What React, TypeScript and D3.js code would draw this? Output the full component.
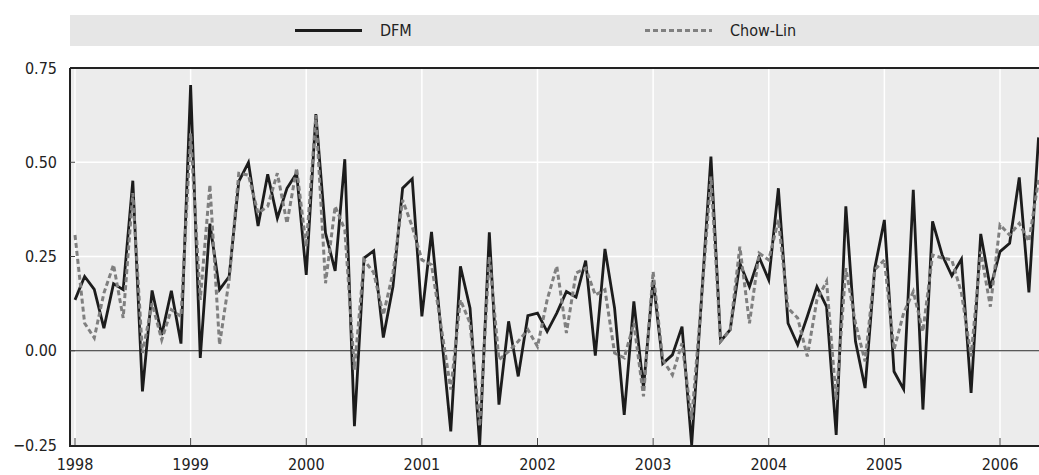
import React from "react";
import * as d3 from "d3";

// monthly values, Jan 1998 - May 2006
const startYear = 1998;
const yearTicks = [1998, 1999, 2000, 2001, 2002, 2003, 2004, 2005, 2006];
const yTicks = [-0.25, 0, 0.25, 0.5, 0.75];

const dfm = [
  0.135, 0.197, 0.163, 0.06, 0.178, 0.162, 0.451, -0.108, 0.16, 0.042, 0.159, 0.019,
  0.705, -0.019, 0.337, 0.162, 0.197, 0.449, 0.499, 0.331, 0.468, 0.352, 0.431, 0.471,
  0.201, 0.628, 0.312, 0.212, 0.508, -0.2, 0.246, 0.265, 0.035, 0.17, 0.431, 0.456,
  0.091, 0.315, 0.05, -0.214, 0.224, 0.113, -0.25, 0.314, -0.143, 0.078, -0.068, 0.093,
  0.1, 0.051, 0.1, 0.157, 0.142, 0.239, -0.013, 0.27, 0.113, -0.17, 0.131, -0.099,
  0.188, -0.034, -0.011, 0.064, -0.25, 0.13, 0.515, 0.025, 0.056, 0.232, 0.17, 0.248,
  0.188, 0.431, 0.073, 0.016, 0.091, 0.17, 0.117, -0.223, 0.383, 0.025, -0.099, 0.219,
  0.347, -0.055, -0.102, 0.427, -0.156, 0.343, 0.254, 0.199, 0.243, -0.112, 0.31, 0.166,
  0.263, 0.285, 0.46, 0.155, 0.566,
];

const chowLin = [
  0.307, 0.073, 0.034, 0.153, 0.228, 0.087, 0.418, -0.006, 0.126, 0.029, 0.109, 0.091,
  0.577, 0.135, 0.44, 0.016, 0.188, 0.471, 0.466, 0.365, 0.383, 0.471, 0.338, 0.484,
  0.276, 0.625, 0.179, 0.383, 0.321, -0.05, 0.241, 0.207, 0.095, 0.207, 0.4, 0.329,
  0.241, 0.228, 0.064, -0.103, 0.135, 0.073, -0.2, 0.25, -0.024, -0.002, 0.025, 0.056,
  0.011, 0.135, 0.224, 0.047, 0.206, 0.219, 0.148, 0.162, -0.006, -0.019, 0.073, -0.121,
  0.21, -0.024, -0.064, 0.02, -0.183, 0.13, 0.462, 0.025, 0.056, 0.276, 0.073, 0.259,
  0.241, 0.347, 0.113, 0.087, -0.015, 0.135, 0.184, -0.13, 0.219, 0.073, -0.028, 0.215,
  0.241, 0.003, 0.1, 0.157, 0.051, 0.254, 0.246, 0.241, 0.153, -0.015, 0.263, 0.117,
  0.334, 0.307, 0.338, 0.29, 0.453,
];

const W = 1039;
const H = 475;
const left = 70;
const right = 1039;
const top = 68;
const bottom = 445;
const font = "'Liberation Sans Narrow', 'DejaVu Sans Condensed', sans-serif";

const App = () => {
  // year scale: 1998 sits a little inside the left axis
  const x = d3.scaleLinear().domain([1998, 2006]).range([75, 1000]);
  const y = d3.scaleLinear().domain([-0.25, 0.75]).range([bottom, top]);

  const line = d3
    .line<number>()
    .x((_, i) => x(startYear + i / 12))
    .y((d) => y(d));

  const fmt = (v: number) => (v < 0 ? "\u2212" : "") + Math.abs(v).toFixed(2);

  return (
    <div style={{ position: "absolute", left: 0, top: 0 }}>
      <svg width={W} height={H} style={{ display: "block" }}>
        {/* legend */}
        <rect x={left} y={15} width={right - left} height={31} fill="#e6e6e6" />
        <line x1={295} x2={362} y1={30.5} y2={30.5} stroke="#1c1c1c" strokeWidth={3} />
        <text x={380} y={36} fontFamily={font} fontSize={16} fill="#222">DFM</text>
        <line x1={645} x2={712} y1={30.5} y2={30.5} stroke="#808080" strokeWidth={3} strokeDasharray="5,3" />
        <text x={730} y={36} fontFamily={font} fontSize={16} fill="#222">Chow-Lin</text>

        {/* plot background */}
        <rect x={left} y={top} width={right - left} height={bottom - top} fill="#ececec" />

        {/* grid */}
        {yTicks.slice(1, -1).map((t) => (
          <line key={"gy" + t} x1={left} x2={right} y1={y(t)} y2={y(t)} stroke="#fff" strokeWidth={1.5} />
        ))}
        {yearTicks.map((t) => (
          <line key={"gx" + t} x1={x(t)} x2={x(t)} y1={top} y2={bottom} stroke="#fff" strokeWidth={1.5} />
        ))}

        {/* zero line */}
        <line x1={left} x2={right} y1={y(0)} y2={y(0)} stroke="#222" strokeWidth={1} />

        <defs>
          <clipPath id="plotClip">
            <rect x={left} y={top} width={right - left} height={bottom - top + 2} />
          </clipPath>
        </defs>

        <g clipPath="url(#plotClip)">
          <path d={line(dfm) ?? ""} fill="none" stroke="#1c1c1c" strokeWidth={2.8} strokeLinejoin="miter" />
          <path d={line(chowLin) ?? ""} fill="none" stroke="#7f7f7f" strokeWidth={3} strokeDasharray="5,3" />
        </g>

        {/* frame */}
        <line x1={left} x2={right} y1={top} y2={top} stroke="#222" strokeWidth={2} />
        <line x1={left} x2={right} y1={bottom + 1} y2={bottom + 1} stroke="#222" strokeWidth={2} />
        <line x1={left} x2={left} y1={top} y2={bottom + 2} stroke="#222" strokeWidth={2} />

        {/* ticks */}
        {yearTicks.map((t) => (
          <line key={"tx" + t} x1={x(t)} x2={x(t)} y1={bottom - 7} y2={bottom} stroke="#444" strokeWidth={1} />
        ))}
        {yTicks.slice(1, -1).map((t) => (
          <line key={"ty" + t} x1={left} x2={left + 5} y1={y(t)} y2={y(t)} stroke="#444" strokeWidth={1} />
        ))}

        {/* labels */}
        {yTicks.map((t) => (
          <text
            key={"ly" + t}
            x={57}
            y={y(t)}
            textAnchor="end"
            dominantBaseline="central"
            fontFamily={font}
            fontSize={16}
            fill="#222"
          >
            {fmt(t)}
          </text>
        ))}
        {yearTicks.map((t) => (
          <text
            key={"lx" + t}
            x={x(t)}
            y={470}
            textAnchor="middle"
            fontFamily={font}
            fontSize={16}
            fill="#222"
          >
            {t}
          </text>
        ))}
      </svg>
    </div>
  );
};

export default App;
